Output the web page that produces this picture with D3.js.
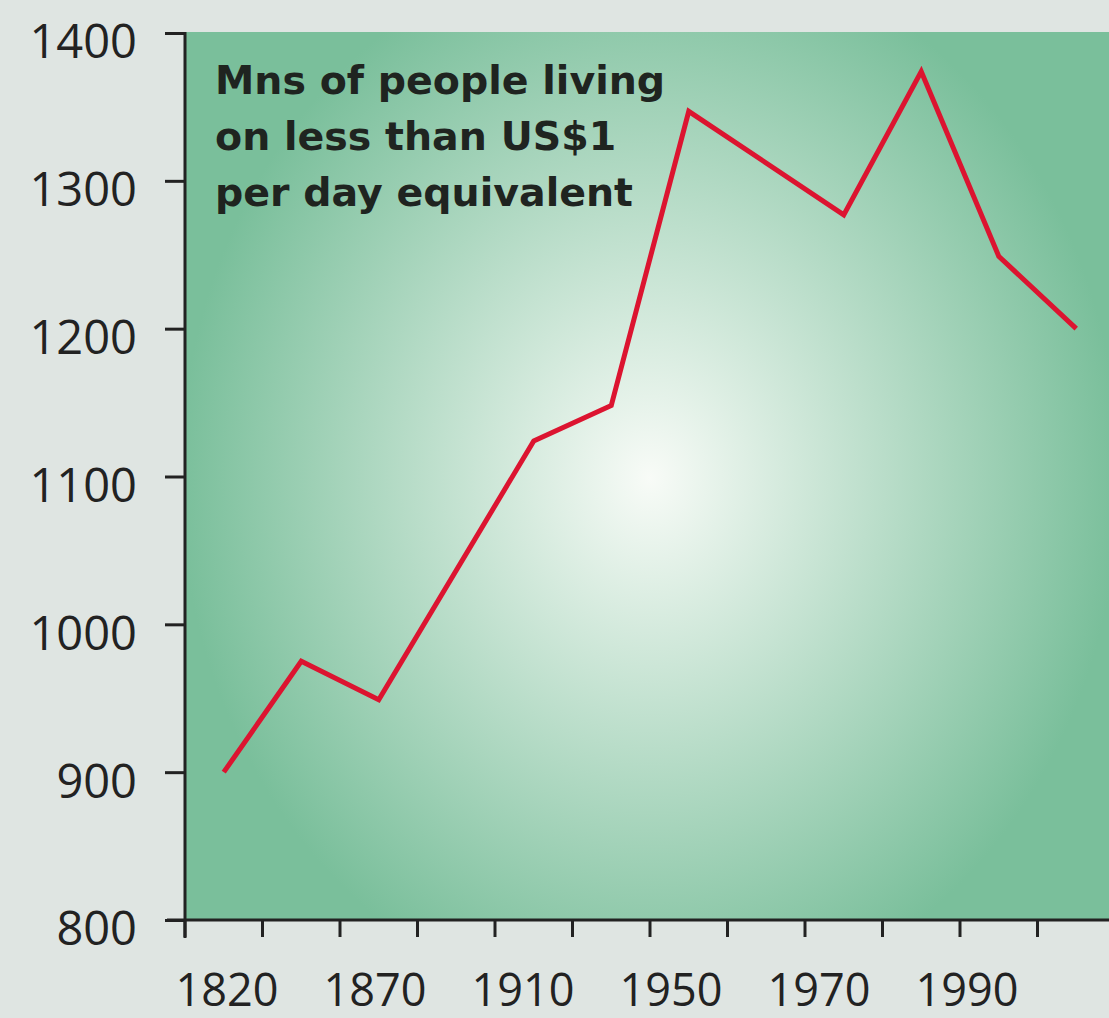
<!DOCTYPE html>
<html>
<head>
<meta charset="utf-8">
<script src="https://cdn.jsdelivr.net/npm/d3@7"></script>
<style>
  body { margin: 0; background: #dfe5e2; }
  svg { display: block; }
</style>
</head>
<body>
<svg id="chart"></svg>
<script>
// data
var categories = ["1820", "1850", "1870", "1890", "1910", "1929", "1950", "1960", "1970", "1980", "1990", "2000"];
var tickLabels = ["1820", "1870", "1910", "1950", "1970", "1990"];
var years = ["1820", "1850", "1870", "1910", "1929", "1950", "1970", "1980", "1990", "2000"];
var values = [900, 975, 949, 1124, 1148, 1347, 1277, 1374, 1249, 1200];
var yTicks = [800, 900, 1000, 1100, 1200, 1300, 1400];
var titleLines = ["Mns of people living", "on less than US$1", "per day equivalent"];

var width = 1109, height = 1018;
var plotLeft = 185, plotTop = 33, plotBottom = 920, step = 77.5;

var svg = d3.select("#chart").attr("width", width).attr("height", height);

var x = d3.scaleBand().domain(categories)
    .range([plotLeft, plotLeft + step * categories.length]).padding(0);
var xLab = d3.scalePoint().domain(tickLabels).range([227, 967]);
var y = d3.scaleLinear().domain([800, 1400]).range([plotBottom, plotTop]);

// background gradient
var defs = svg.append("defs");
var grad = defs.append("radialGradient").attr("id", "bg")
    .attr("gradientUnits", "userSpaceOnUse")
    .attr("cx", 650).attr("cy", 478).attr("r", 470)
    .attr("gradientTransform", "translate(650,478) scale(1,1.15) translate(-650,-478)");
grad.append("stop").attr("offset", 0).attr("stop-color", "#f8fbf7");
grad.append("stop").attr("offset", 1).attr("stop-color", "#7abf9b");

svg.append("rect")
    .attr("x", plotLeft).attr("y", plotTop - 1)
    .attr("width", width - plotLeft).attr("height", plotBottom - plotTop + 1)
    .attr("fill", "url(#bg)");

// title
var title = svg.append("text")
    .attr("x", 215).attr("y", 94)
    .attr("font-family", "DejaVu Sans")
    .attr("font-weight", "bold")
    .attr("font-size", "39.5px")
    .attr("fill", "#1f2420");
title.selectAll("tspan").data(titleLines).enter().append("tspan")
    .attr("x", 215)
    .attr("dy", function(d, i) { return i === 0 ? 0 : 56; })
    .text(function(d) { return d; });

// line
var pts = years.map(function(d, i) { return { year: d, value: values[i] }; });
var line = d3.line()
    .x(function(d) { return x(d.year) + x.bandwidth() / 2; })
    .y(function(d) { return y(d.value); });
svg.append("path").datum(pts)
    .attr("d", line)
    .attr("fill", "none")
    .attr("stroke", "#dc1430")
    .attr("stroke-width", 5)
    .attr("stroke-linejoin", "miter");

// y axis
var yAxis = d3.axisLeft(y).tickValues(yTicks).tickFormat(d3.format("d"))
    .tickSize(20).tickPadding(28);
var gy = svg.append("g").attr("transform", "translate(" + plotLeft + ",0)").call(yAxis);
gy.select(".domain").remove();
gy.selectAll(".tick line").attr("stroke", "#222").attr("stroke-width", 3);
gy.selectAll(".tick text")
    .attr("font-family", "Open Sans")
    .attr("font-size", "47px")
    .attr("fill", "#222")
    .attr("dy", "0.53em");

svg.append("line")
    .attr("x1", plotLeft).attr("x2", plotLeft)
    .attr("y1", y(1400) - 1).attr("y2", y(800) + 18)
    .attr("stroke", "#222").attr("stroke-width", 3);

// x axis
svg.append("line")
    .attr("x1", plotLeft - 18).attr("x2", width)
    .attr("y1", y(800)).attr("y2", y(800))
    .attr("stroke", "#222").attr("stroke-width", 3);

svg.append("g").selectAll("line").data(categories).enter().append("line")
    .attr("x1", function(d) { return x(d); })
    .attr("x2", function(d) { return x(d); })
    .attr("y1", y(800))
    .attr("y2", y(800) + 17)
    .attr("stroke", "#222").attr("stroke-width", 3);

svg.append("g").selectAll("text").data(tickLabels).enter().append("text")
    .attr("x", function(d) { return xLab(d); })
    .attr("y", 1006)
    .attr("text-anchor", "middle")
    .attr("font-family", "Open Sans")
    .attr("font-size", "45px")
    .attr("fill", "#222")
    .text(function(d) { return d; });
</script>
</body>
</html>
